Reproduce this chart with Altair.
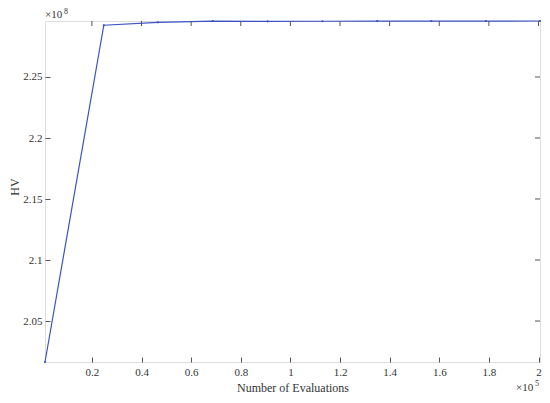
import altair as alt
import pandas as pd

evaluations = [1100, 24800, 46600, 68700, 90800, 112900, 135000, 156800, 178800, 200600]
hv = [2.0164e8, 2.2924e8, 2.2948e8, 2.2958e8, 2.2956e8, 2.2957e8, 2.2958e8, 2.2958e8, 2.2958e8, 2.2959e8]
x_ticks = [20000, 40000, 60000, 80000, 100000, 120000, 140000, 160000, 180000, 200000]
y_ticks = [2.05e8, 2.10e8, 2.15e8, 2.20e8, 2.25e8]

df = pd.DataFrame({"evals": evaluations, "hv": hv})
xt = pd.DataFrame({"x": x_ticks})
yt = pd.DataFrame({"y": y_ticks})

AX = "#555555"
TXT = "#333333"
FONT = "Times New Roman, Liberation Serif, serif"
LINE = "#3a52c4"
W, H = 495, 341

xscale = alt.Scale(domain=[min(evaluations), max(evaluations)], nice=False, zero=False)
yscale = alt.Scale(domain=[min(hv), max(hv)], nice=False, zero=False)

common_axis = dict(domain=False, grid=False, tickColor=AX, tickSize=5, offset=-5,
                   labelFont=FONT, labelFontSize=11, labelColor=TXT,
                   titleFont=FONT, titleFontSize=12, titleColor=TXT, titleFontWeight="normal")

xaxis = alt.Axis(values=x_ticks, labelExpr="format(datum.value/1e5, '.1~f')",
                 title="Number of Evaluations", labelPadding=4, titlePadding=5, **common_axis)
yaxis = alt.Axis(values=y_ticks, labelExpr="format(datum.value/1e8, '.2~f')",
                 title="HV", labelPadding=3, titleX=-36, titleY=H / 2 - 5,
                 titleBaseline="middle", titleAlign="center", **common_axis)

line = alt.Chart(df).mark_line(color=LINE, strokeWidth=1.2).encode(
    x=alt.X("evals:Q", scale=xscale, axis=xaxis),
    y=alt.Y("hv:Q", scale=yscale, axis=yaxis),
)
pts = alt.Chart(df).mark_point(color=LINE, filled=True, size=5, opacity=1).encode(
    x=alt.X("evals:Q", scale=xscale),
    y=alt.Y("hv:Q", scale=yscale),
)
top_ticks = alt.Chart(xt).mark_rule(color=AX, strokeWidth=1).encode(
    x=alt.X("x:Q", scale=xscale), y=alt.value(0), y2=alt.value(5))
right_ticks = alt.Chart(yt).mark_rule(color=AX, strokeWidth=1).encode(
    y=alt.Y("y:Q", scale=yscale), x=alt.value(W - 5), x2=alt.value(W))

exp_rows = pd.DataFrame({"t": ["×10"]})
e8a = alt.Chart(exp_rows).mark_text(font=FONT, fontSize=11, color=TXT, align="left", baseline="alphabetic").encode(
    text="t:N", x=alt.value(0), y=alt.value(-3))
e8b = alt.Chart(pd.DataFrame({"t": ["8"]})).mark_text(font=FONT, fontSize=8, color=TXT, align="left", baseline="alphabetic").encode(
    text="t:N", x=alt.value(19), y=alt.value(-7))
e5a = alt.Chart(exp_rows).mark_text(font=FONT, fontSize=11, color=TXT, align="left", baseline="alphabetic").encode(
    text="t:N", x=alt.value(W - 24), y=alt.value(370))
e5b = alt.Chart(pd.DataFrame({"t": ["5"]})).mark_text(font=FONT, fontSize=8, color=TXT, align="left", baseline="alphabetic").encode(
    text="t:N", x=alt.value(W - 5), y=alt.value(365))

chart = alt.layer(line, pts, top_ticks, right_ticks, e8a, e8b, e5a, e5b).properties(
    width=W, height=H,
    autosize=alt.AutoSizeParams(type="none"),
    padding={"left": 37, "top": 13, "right": 2, "bottom": 33},
).configure_view(stroke=AX, strokeWidth=1).configure(background="white")

chart.save("out.html", embed_options={"renderer": "svg", "actions": False})
